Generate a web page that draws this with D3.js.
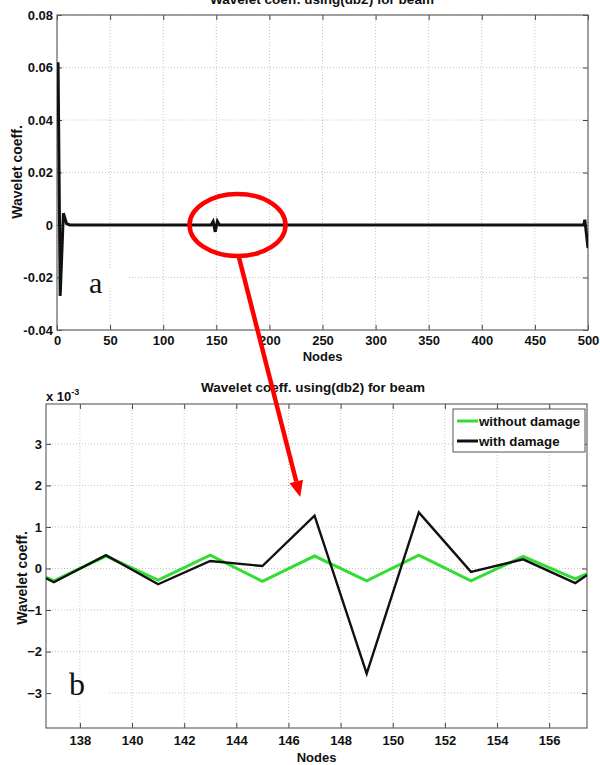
<!DOCTYPE html>
<html>
<head>
<meta charset="utf-8">
<script src="https://cdn.jsdelivr.net/npm/d3@7.9.0/dist/d3.min.js"></script>
<style>
  body { margin: 0; background: #fff; }
  svg { display: block; font-family: "Liberation Sans", Arial, sans-serif; }
  .tick text { font-weight: bold; font-size: 13px; fill: #111; }
  .lbl { font-weight: bold; fill: #111; }
</style>
</head>
<body>
<svg id="chart" width="600" height="765"></svg>
<script>
// panel a: coefficients over the whole beam (key points)
const nodesA  = [1, 3, 6, 9, 12, 145, 147, 149, 151, 153, 496, 497, 500];
const coeffA  = [0.062, -0.027, 0.0045, 0.0005, 0, 0, 0.0013, -0.0026, 0.0014, 0, 0, 0.002, -0.0088];
const xTicksA = [0, 50, 100, 150, 200, 250, 300, 350, 400, 450, 500];
const yTicksA = [-0.04, -0.02, 0, 0.02, 0.04, 0.06, 0.08];

// panel b: zoom on nodes 137-157 (values in units of 1e-3)
const nodesB     = [135, 137, 139, 141, 143, 145, 147, 149, 151, 153, 155, 157, 159];
const noDamage   = [0.3, -0.3, 0.3, -0.28, 0.32, -0.31, 0.3, -0.3, 0.32, -0.3, 0.29, -0.25, 0.3];
const withDamage = [0.3, -0.33, 0.32, -0.38, 0.18, 0.06, 1.27, -2.53, 1.35, -0.08, 0.22, -0.35, 0.5];
const xTicksB = [138, 140, 142, 144, 146, 148, 150, 152, 154, 156];
const yTicksB = [-3, -2, -1, 0, 1, 2, 3];
const seriesB = ['without damage', 'with damage'];
const colorsB = ['#33dd33', '#111'];

const title = 'Wavelet coeff. using(db2) for beam';
const svg = d3.select('#chart');

function drawPanel(p) {
  const g = svg.append('g');
  const { x, y } = p;
  const [l, r] = x.range();
  const [b, t] = y.range();

  // grid
  g.append('g').selectAll('line').data(p.xTicks).join('line')
    .attr('x1', d => x(d)).attr('x2', d => x(d)).attr('y1', t).attr('y2', b)
    .attr('stroke', '#c4c4c4').attr('stroke-dasharray', '1,2');
  g.append('g').selectAll('line').data(p.yTicks).join('line')
    .attr('x1', l).attr('x2', r).attr('y1', d => y(d)).attr('y2', d => y(d))
    .attr('stroke', '#c4c4c4').attr('stroke-dasharray', '1,2');

  // patch behind the panel letter
  g.append('rect').attr('x', p.patch[0]).attr('y', p.patch[1])
    .attr('width', p.patch[2]).attr('height', p.patch[3]).attr('fill', '#fff');

  // axes, ticks inward like matlab
  const ax = (fn, tr, vals, fmt, pad) => g.append('g').attr('transform', tr)
    .call(fn.tickValues(vals).tickSizeInner(-5).tickSizeOuter(0).tickPadding(pad).tickFormat(fmt))
    .call(s => s.select('.domain').remove())
    .call(s => s.selectAll('.tick line').attr('stroke', '#444'));
  ax(d3.axisBottom(x), `translate(0,${b})`, p.xTicks, p.xFmt, p.xPad);
  ax(d3.axisTop(x), `translate(0,${t})`, p.xTicks, '', 0);
  ax(d3.axisLeft(y), `translate(${l},0)`, p.yTicks, p.yFmt, 4);
  ax(d3.axisRight(y), `translate(${r},0)`, p.yTicks, '', 0);

  g.append('rect').attr('x', l).attr('y', t).attr('width', r - l).attr('height', b - t)
    .attr('fill', 'none').attr('stroke', '#666').attr('stroke-width', 1.2);

  const clipId = 'clip' + p.id;
  svg.append('clipPath').attr('id', clipId).append('rect')
    .attr('x', l).attr('y', t).attr('width', r - l).attr('height', b - t);

  const line = d3.line().x(d => x(d[0])).y(d => y(d[1]));
  g.append('g').attr('clip-path', `url(#${clipId})`)
    .selectAll('path').data(p.series).join('path')
    .attr('d', d => line(d.pts))
    .attr('fill', 'none').attr('stroke', d => d.color)
    .attr('stroke-width', d => d.width).attr('stroke-linejoin', 'miter');

  // labels
  g.append('text').attr('class', 'lbl').attr('x', (l + r) / 2).attr('y', p.xLabelY)
    .attr('text-anchor', 'middle').attr('font-size', 13).text('Nodes');
  g.append('text').attr('class', 'lbl').attr('text-anchor', 'middle').attr('font-size', 14)
    .attr('transform', `translate(${p.yLabelX},${p.yLabelMid}) rotate(-90)`).text('Wavelet coeff.');
  g.append('text').attr('class', 'lbl').attr('x', p.titleX).attr('y', p.titleY)
    .attr('text-anchor', 'middle').attr('font-size', 13.5).text(title);
  g.append('text').attr('x', p.letter[1]).attr('y', p.letter[2])
    .attr('font-family', '"Liberation Serif", "Times New Roman", serif')
    .attr('font-size', p.letter[3]).attr('fill', '#111').text(p.letter[0]);
  return g;
}

// panel a
const xA = d3.scaleLinear().domain([0, 500]).range([57, 588]);
const yA = d3.scaleLinear().domain([-0.04, 0.08]).range([330, 15]);
drawPanel({
  id: 'a', x: xA, y: yA, xTicks: xTicksA, yTicks: yTicksA,
  xFmt: d3.format('d'), yFmt: d => d === 0 ? '0' : d.toFixed(2), xPad: 6,
  series: [{ pts: nodesA.map((n, i) => [n, coeffA[i]]), color: '#111', width: 3 }],
  xLabelY: 361, yLabelX: 22, yLabelMid: 172, titleX: 322, titleY: 4,
  letter: ['a', 89, 293, 30], patch: [59, 268, 70, 18]
});

// panel b
const xB = d3.scaleLinear().domain([136.7, 157.45]).range([46, 587]);
const yB = d3.scaleLinear().domain([-3.84, 3.96]).range([728, 404]);
drawPanel({
  id: 'b', x: xB, y: yB, xTicks: xTicksB, yTicks: yTicksB,
  xFmt: d3.format('d'), yFmt: d3.format('d'), xPad: 8,
  series: [
    { pts: nodesB.map((n, i) => [n, noDamage[i]]), color: colorsB[0], width: 3 },
    { pts: nodesB.map((n, i) => [n, withDamage[i]]), color: colorsB[1], width: 2.4 }
  ],
  xLabelY: 762, yLabelX: 27, yLabelMid: 578, titleX: 313, titleY: 392,
  letter: ['b', 69, 695, 32], patch: [48, 684, 60, 16]
});

// exponent note
const ex = svg.append('text').attr('class', 'lbl').attr('x', 46).attr('y', 401).attr('font-size', 13);
ex.append('tspan').text('x 10');
ex.append('tspan').attr('dy', -6).attr('font-size', 9).text('-3');

// legend
const lg = svg.append('g').attr('transform', 'translate(453,409)');
lg.append('rect').attr('width', 132).attr('height', 43).attr('fill', '#fff')
  .attr('stroke', '#555').attr('stroke-width', 1);
seriesB.forEach((s, i) => {
  lg.append('line').attr('x1', 4).attr('x2', 25).attr('y1', 12 + i * 20).attr('y2', 12 + i * 20)
    .attr('stroke', colorsB[i]).attr('stroke-width', 3);
  lg.append('text').attr('class', 'lbl').attr('x', 26).attr('y', 17 + i * 20)
    .attr('font-size', 13.3).text(s);
});

// red annotation: ellipse round the damage blip, arrow down to panel b
svg.append('ellipse').attr('cx', xA(170)).attr('cy', yA(0)).attr('rx', 48).attr('ry', 31)
  .attr('fill', 'none').attr('stroke', '#f00').attr('stroke-width', 4.5);
const p0 = [xA(171), yA(-0.0118)];
const p1 = [xB(146.45), yB(1.72)];
const ang = Math.atan2(p1[1] - p0[1], p1[0] - p0[0]);
const headL = 16, headW = 7;
const base = [p1[0] - headL * Math.cos(ang), p1[1] - headL * Math.sin(ang)];
svg.append('line').attr('x1', p0[0]).attr('y1', p0[1]).attr('x2', base[0]).attr('y2', base[1])
  .attr('stroke', '#f00').attr('stroke-width', 4.5);
svg.append('path').attr('fill', '#f00').attr('d', d3.line()([
  p1,
  [base[0] + headW * Math.sin(ang), base[1] - headW * Math.cos(ang)],
  [base[0] - headW * Math.sin(ang), base[1] + headW * Math.cos(ang)]
]) + 'Z');
</script>
</body>
</html>
